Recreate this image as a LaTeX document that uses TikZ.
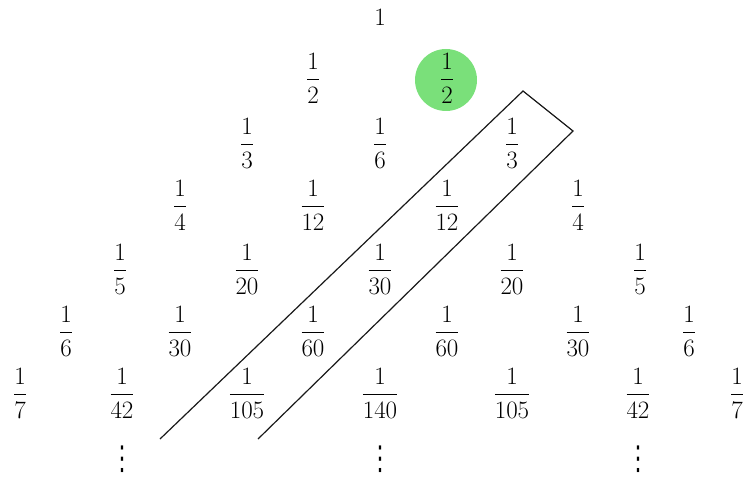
\documentclass[tikz,border=0pt]{standalone}
\usepackage{fix-cm}
\usepackage{amsmath}
\usepackage{fontspec}
\newfontfamily\dvfont{DejaVu Sans}
\definecolor{hilite}{RGB}{122,224,122}
\begin{document}
\begin{tikzpicture}[x=1pt,y=-1pt,
  fr/.style={anchor=base,inner sep=0pt,font=\fontsize{25}{30}\selectfont},
  dt/.style={anchor=center,inner sep=0pt,font=\dvfont\fontsize{22}{26}\selectfont},
  band/.style={line width=1.2pt,black!90}]
\useasboundingbox (0,0) rectangle (751,481);
\fill[hilite] (446,80) circle (31);
% row 1
\node[fr] (a1) at (380,26) {$1$};
% row 2 (bar y=80)
\node[fr] (b1) at (313,86) {$\dfrac{1}{2}$};
\node[fr] (b2) at (447,86) {$\dfrac{1}{2}$};
% row 3 (bar y=145)
\node[fr] (c1) at (247,151) {$\dfrac{1}{3}$};
\node[fr] (c2) at (380,151) {$\dfrac{1}{6}$};
\node[fr] (c3) at (512,151) {$\dfrac{1}{3}$};
% row 4 (bar y=207)
\node[fr] (d1) at (180,213) {$\dfrac{1}{4}$};
\node[fr] (d2) at (313,213) {$\dfrac{1}{12}$};
\node[fr] (d3) at (447,213) {$\dfrac{1}{12}$};
\node[fr] (d4) at (578,213) {$\dfrac{1}{4}$};
% row 5 (bar y=271)
\node[fr] (e1) at (120,277) {$\dfrac{1}{5}$};
\node[fr] (e2) at (247,277) {$\dfrac{1}{20}$};
\node[fr] (e3) at (380,277) {$\dfrac{1}{30}$};
\node[fr] (e4) at (512,277) {$\dfrac{1}{20}$};
\node[fr] (e5) at (640,277) {$\dfrac{1}{5}$};
% row 6 (bar y=333)
\node[fr] (f1) at (66,339) {$\dfrac{1}{6}$};
\node[fr] (f2) at (180,339) {$\dfrac{1}{30}$};
\node[fr] (f3) at (313,339) {$\dfrac{1}{60}$};
\node[fr] (f4) at (447,339) {$\dfrac{1}{60}$};
\node[fr] (f5) at (578,339) {$\dfrac{1}{30}$};
\node[fr] (f6) at (689,339) {$\dfrac{1}{6}$};
% row 7 (bar y=395)
\node[fr] (g1) at (20,401) {$\dfrac{1}{7}$};
\node[fr] (g2) at (122,401) {$\dfrac{1}{42}$};
\node[fr] (g3) at (247,401) {$\dfrac{1}{105}$};
\node[fr] (g4) at (380,401) {$\dfrac{1}{140}$};
\node[fr] (g5) at (512,401) {$\dfrac{1}{105}$};
\node[fr] (g6) at (638,401) {$\dfrac{1}{42}$};
\node[fr] (g7) at (737,401) {$\dfrac{1}{7}$};
% dots
\node[dt] (v1) at (122,459) {\scalebox{1}[1.5]{⋮}};
\node[dt] (v2) at (380,459) {\scalebox{1}[1.5]{⋮}};
\node[dt] (v3) at (638,459) {\scalebox{1}[1.5]{⋮}};
% band
\coordinate (p1) at (160,439);
\coordinate (p2) at (523,91);
\coordinate (p3) at (573,131);
\coordinate (p4) at (258,439);
\draw[band] (p1) -- (p2) -- (p3) -- (p4);
\end{tikzpicture}
\end{document}
